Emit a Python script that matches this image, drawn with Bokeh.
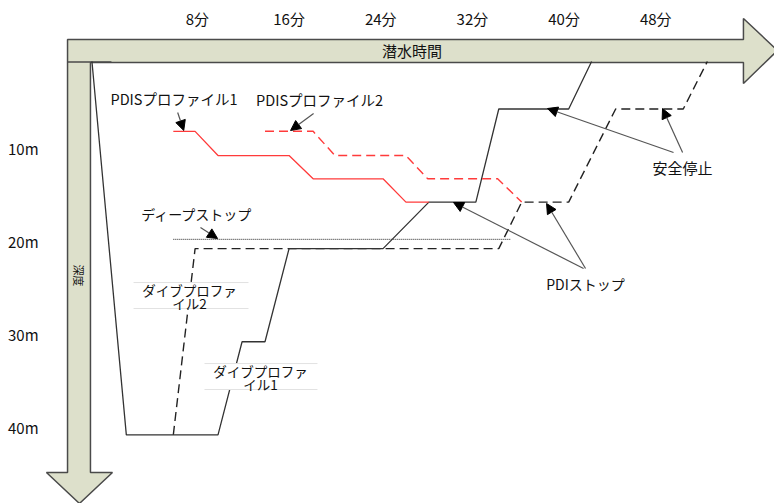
import math
from bokeh.plotting import figure
from bokeh.models import Range1d, Arrow, NormalHead, ColumnDataSource
from bokeh.core.properties import value
from bokeh.embed import file_html
from bokeh.resources import INLINE

FONT = "Noto Sans CJK JP"

# ---- axis ticks (minutes / metres) ----
x_ticks = [8, 16, 24, 32, 40, 48]
x_labels = ["8分", "16分", "24分", "32分", "40分", "48分"]
y_ticks = [10, 20, 30, 40]
y_labels = ["10m", "20m", "30m", "40m"]

# ---- dive profiles (time in minutes, depth in metres) ----
dive1_t = [-1.2, 1.8, 9.8, 11.9, 13.9, 16.0, 24.2, 28.2, 32.3, 34.3, 40.4, 42.4]
dive1_d = [0.7, 40.8, 40.8, 30.8, 30.8, 20.8, 20.8, 15.8, 15.8, 5.8, 5.8, 0.7]

dive2_t = [5.9, 7.8, 34.3, 36.3, 40.4, 44.5, 50.4, 52.5]
dive2_d = [40.8, 20.8, 20.8, 15.8, 15.8, 5.8, 5.8, 0.7]

pdis1_t = [5.9, 7.8, 9.8, 16.0, 18.1, 24.2, 26.2, 28.2]
pdis1_d = [8.2, 8.2, 10.8, 10.8, 13.3, 13.3, 15.8, 15.8]

pdis2_t = [13.9, 18.1, 20.0, 26.2, 28.1, 34.2, 36.3]
pdis2_d = [8.2, 8.2, 10.8, 10.8, 13.3, 13.3, 15.8]

deep_t = [5.9, 35.3]
deep_d = [19.8, 19.8]

p = figure(width=774, height=503, output_backend="svg", toolbar_location=None,
           x_range=Range1d(-9.18, 58.36), y_range=Range1d(48.17, -5.85),
           x_axis_location=None, y_axis_location=None, min_border=0,
           outline_line_color=None, background_fill_color="white")
p.grid.visible = False

# ---- big grey axis arrows (diagram frame) ----
band_t = [-3.33, 55.65, 55.65, 58.62, 55.65, 55.65, -1.33, -1.33, 0.59, -2.29, -5.17, -3.33]
band_d = [-1.66, -1.66, -3.92, -0.48, 3.06, 0.81, 0.81, 44.84, 44.84, 48.17, 44.84, 44.84]
p.patch(band_t, band_d, fill_color="#dde0cb", line_color="#4a4a4a", line_width=1.5)
p.line([-3.33, 0.5], [0.75, 0.75], line_color="#4a4a4a", line_width=1.5)

# ---- profiles ----
p.line(deep_t, deep_d, line_color="#222222", line_width=1, line_dash="1 1")
p.line(dive2_t, dive2_d, line_color="#222222", line_width=1.4, line_dash="9 5")
p.line(dive1_t, dive1_d, line_color="#333333", line_width=1.3)
p.line(pdis2_t, pdis2_d, line_color="#ff3b3b", line_width=1.4, line_dash="9 5")
p.line(pdis1_t, pdis1_d, line_color="#ff3b3b", line_width=1.3)

# ---- label boxes (white with faint rules) ----
box_l = [2.43, 8.62]
box_r = [12.46, 18.48]
box_top = [24.44, 33.14]
box_bot = [27.23, 35.93]
p.quad(left=box_l, right=box_r, top=box_top, bottom=box_bot,
       fill_color="white", line_color=None)
p.segment(x0=box_l + box_l, x1=box_r + box_r, y0=box_top + box_bot, y1=box_top + box_bot,
          line_color="#e2e2e2", line_width=1)

# ---- annotation arrows ----
arr = ColumnDataSource(dict(
    xs=[6.28, 18.14, 8.27, 49.55, 50.34, 41.70, 41.87],
    ys=[6.18, 6.29, 18.53, 10.47, 10.47, 22.93, 22.93],
    xe=[6.81, 16.13, 9.76, 38.55, 48.59, 30.35, 38.47],
    ye=[8.11, 8.11, 19.71, 5.75, 5.75, 15.84, 15.95],
))
p.add_layout(Arrow(end=NormalHead(size=10, fill_color="black", line_color="black", line_width=1),
                   x_start="xs", y_start="ys", x_end="xe", y_end="ye", source=arr,
                   line_color="#555555", line_width=1.2))

# ---- tick labels ----
p.text(x=x_ticks, y=[-3.92] * len(x_ticks), text=x_labels, text_font=value(FONT),
       text_font_size="15px", text_align="center", text_baseline="middle", text_color="#111111")
p.text(x=[-5.86] * len(y_ticks), y=y_ticks, text=y_labels, text_font=value(FONT),
       text_font_size="15px", text_align="right", text_baseline="middle", text_color="#111111")

# ---- axis titles ----
p.text(x=[26.73], y=[-0.48], text=["潜水時間"], text_font=value(FONT), text_font_size="15px",
       text_align="center", text_baseline="middle", text_color="#111111")
p.text(x=[-2.29], y=[23.68], text=["深度"], text_font=value(FONT), text_font_size="11px",
       angle=-math.pi / 2, text_align="center", text_baseline="middle", text_color="#111111")

# ---- annotation labels ----
lab_t = [5.96, 18.66, 7.98, 41.87, 50.34]
lab_d = [4.67, 4.83, 17.13, 24.65, 12.08]
lab_s = ["PDISプロファイル1", "PDISプロファイル2", "ディープストップ", "PDIストップ", "安全停止"]
lab_f = ["14.5px", "14.5px", "14px", "14px", "15px"]
p.text(x=lab_t, y=lab_d, text=lab_s, text_font=value(FONT), text_font_size=lab_f,
       text_align="center", text_baseline="middle", text_color="#111111")

dl_t = [7.31, 13.51]
dl_d = [25.94, 34.64]
dl_s = ["ダイブプロファ\nイル2", "ダイブプロファ\nイル1"]
p.text(x=dl_t, y=dl_d, text=dl_s, text_font=value(FONT), text_font_size="13.5px",
       text_align="center", text_baseline="middle", text_line_height=0.68, text_color="#111111")

open("out.html", "w").write(file_html(p, INLINE))
